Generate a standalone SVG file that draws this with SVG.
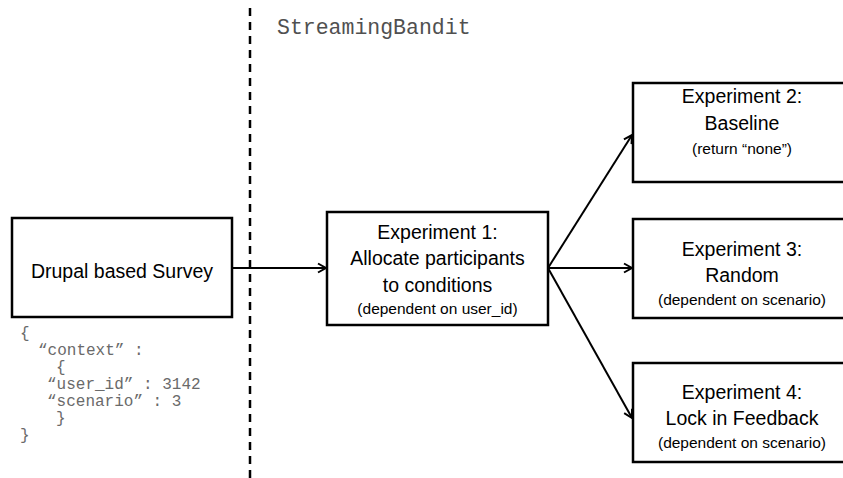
<svg xmlns="http://www.w3.org/2000/svg" width="843" height="478" viewBox="0 0 843 478">
<defs>
<marker id="arr" markerUnits="userSpaceOnUse" markerWidth="12" markerHeight="12" refX="9" refY="5" orient="auto" overflow="visible">
<path d="M1,0.5 L9,5 L1,9.5" fill="none" stroke="#000" stroke-width="2" stroke-linejoin="miter"/>
</marker>
<style>
.box{fill:#fff;stroke:#000;stroke-width:2.5}
.t{font-family:"Liberation Sans",Arial,sans-serif;font-size:19.5px;fill:#000;text-anchor:middle}
.s{font-family:"Liberation Sans",Arial,sans-serif;font-size:15.5px;fill:#000;text-anchor:middle}
.m{font-family:"Liberation Mono","Courier New",monospace;font-size:16px;fill:#6a6a6a}
.c{stroke:#000;stroke-width:2;fill:none;marker-end:url(#arr)}
</style>
</defs>
<rect width="843" height="478" fill="#fff"/>
<line x1="250" y1="8" x2="250" y2="478" stroke="#000" stroke-width="2.5" stroke-dasharray="8 6"/>
<text x="277" y="34" font-family="'Liberation Mono','Courier New',monospace" font-size="21.5" fill="#505050">StreamingBandit</text>
<g id="connectors">
<line class="c" x1="232" y1="268" x2="326" y2="268"/>
<line class="c" x1="548" y1="268" x2="632" y2="135"/>
<line class="c" x1="548" y1="268" x2="632" y2="268"/>
<line class="c" x1="548" y1="268" x2="632" y2="418"/>
</g>
<g id="drupal">
<rect class="box" x="12" y="218" width="220" height="99"/>
<text class="t" x="122" y="278">Drupal based Survey</text>
</g>
<g id="context-json">
<text class="m" x="20" y="338">{</text>
<text class="m" x="38" y="355">“context” :</text>
<text class="m" x="56" y="372">{</text>
<text class="m" x="47" y="389">“user_id” : 3142</text>
<text class="m" x="47" y="406">“scenario” : 3</text>
<text class="m" x="56" y="423">}</text>
<text class="m" x="20" y="440">}</text>
</g>
<g id="exp1">
<rect class="box" x="327" y="212" width="221" height="113"/>
<text class="t" x="437.5" y="239">Experiment 1:</text>
<text class="t" x="437.5" y="265">Allocate participants</text>
<text class="t" x="437.5" y="292">to conditions</text>
<text class="s" x="437.5" y="314">(dependent on user_id)</text>
</g>
<g id="exp2">
<rect class="box" x="633" y="83" width="220" height="99"/>
<text class="t" x="742" y="103">Experiment 2:</text>
<text class="t" x="742" y="130">Baseline</text>
<text class="s" x="742" y="154">(return “none”)</text>
</g>
<g id="exp3">
<rect class="box" x="633" y="219" width="220" height="99"/>
<text class="t" x="742" y="256">Experiment 3:</text>
<text class="t" x="742" y="282">Random</text>
<text class="s" x="742" y="305">(dependent on scenario)</text>
</g>
<g id="exp4">
<rect class="box" x="633" y="363" width="220" height="99"/>
<text class="t" x="742" y="399">Experiment 4:</text>
<text class="t" x="742" y="425">Lock in Feedback</text>
<text class="s" x="742" y="448">(dependent on scenario)</text>
</g>
</svg>
